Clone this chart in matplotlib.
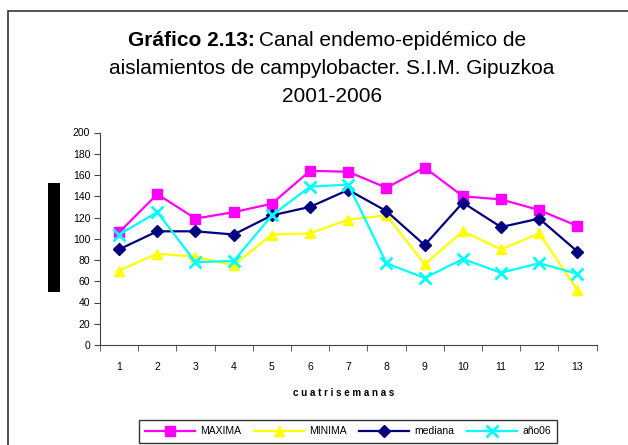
import matplotlib.pyplot as plt
from matplotlib.patches import Rectangle
from matplotlib.transforms import offset_copy

plt.rcParams['font.family'] = ['Liberation Sans', 'DejaVu Sans']

cuatrisemanas = list(range(1, 14))
maxima = [106, 142, 119, 125, 133, 164, 163, 148, 167, 140, 137, 127, 112]
minima = [70, 86, 83, 75, 104, 105, 118, 122, 76, 107, 90, 105, 52]
mediana = [90, 107, 107, 104, 122, 130, 146, 126, 94, 134, 111, 119, 88]
ano06 = [104, 125, 78, 79, 122, 149, 151, 77, 63, 81, 68, 77, 67]
yticks = list(range(0, 201, 20))

W, H = 628, 445
fig = plt.figure(figsize=(W / 100, H / 100), dpi=100)
ax = fig.add_axes([100 / W, 1 - 345 / H, 496.5 / W, 212.5 / H])

ax.plot(cuatrisemanas, maxima, color='#ff00ff', marker='s', ms=6.5, lw=1.6, label='MAXIMA')
ax.plot(cuatrisemanas, minima, color='#ffff00', marker='^', ms=7.5, lw=1.6, label='MINIMA')
ax.plot(cuatrisemanas, mediana, color='#000080', marker='D', ms=6, lw=1.6, label='mediana')
ax.plot(cuatrisemanas, ano06, color='#00ffff', marker='x', ms=8, mew=2, lw=1.6, label='año06')

ax.set_xlim(0.5, 13.5)
ax.set_ylim(0, 200)
ax.set_yticks(yticks)
ax.set_xticks(cuatrisemanas)
ax.set_xticks([i + 0.5 for i in range(0, 14)], minor=True)
ax.tick_params(axis='x', which='major', length=0, pad=12, labelsize=7.5)
ax.tick_params(axis='x', which='minor', length=4, direction='out', color='#444444')
ax.tick_params(axis='y', length=4, direction='out', color='#444444', labelsize=7.5, pad=3)
for s in ['top', 'right']:
    ax.spines[s].set_visible(False)
for s in ['left', 'bottom']:
    ax.spines[s].set_color('#444444')
ax.set_xlabel('c u a t r i s e m a n a s', fontsize=7, fontweight='bold', labelpad=10)
ax.xaxis.set_label_coords(0.49, -0.2)

# title
fig.canvas.draw()
t1 = fig.text(128 / W, 1 - 40 / H, 'Gráfico 2.13:', ha='left', va='center',
              fontsize=15, fontweight='bold')
ext = t1.get_window_extent(renderer=fig.canvas.get_renderer())
fig.text(ext.x1 / W + 4 / W, 1 - 40 / H, 'Canal endemo-epidémico de', ha='left', va='center',
         fontsize=15)
fig.text(332 / W, 1 - 68 / H, 'aislamientos de campylobacter. S.I.M. Gipuzkoa',
         ha='center', va='center', fontsize=15)
fig.text(332 / W, 1 - 96 / H, '2001-2006', ha='center', va='center', fontsize=15)

# outer frame and black label bar
fig.patches.append(Rectangle((8 / W, -0.1), 1.2, 1 - 11 / H + 0.1, transform=fig.transFigure,
                             fill=False, edgecolor='#333333', lw=1.2))
fig.patches.append(Rectangle((48 / W, 1 - 292 / H), 12 / W, 109 / H, transform=fig.transFigure,
                             facecolor='black', edgecolor='none'))

leg = fig.legend(loc='upper left', bbox_to_anchor=(139 / W, 1 - 420 / H), ncol=4,
                 fontsize=7.5, handlelength=4.8, columnspacing=1.2, handletextpad=0.5,
                 frameon=True, fancybox=False, borderpad=0.6, borderaxespad=0)
leg.get_frame().set_edgecolor('black')
leg.get_frame().set_linewidth(1)

fig.savefig('out.png', dpi=100)
